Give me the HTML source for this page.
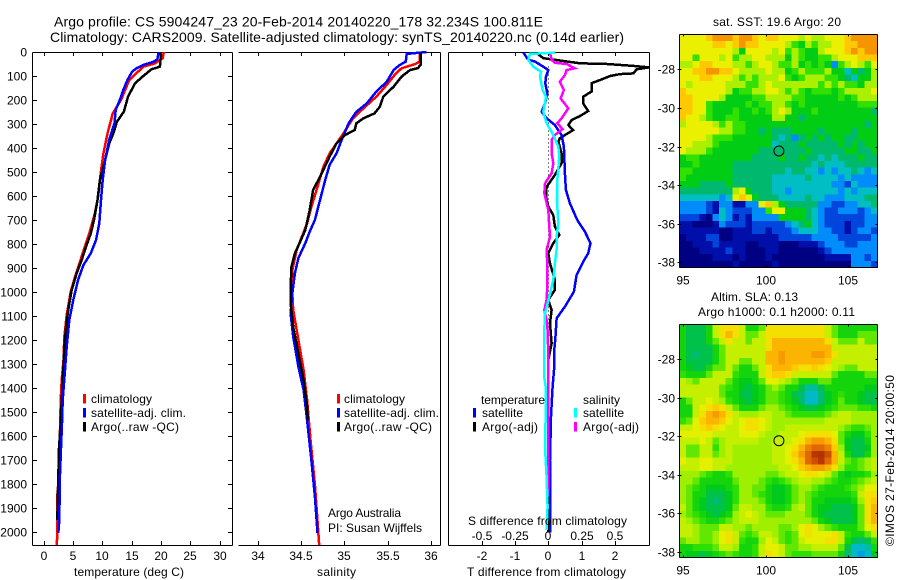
<!DOCTYPE html>
<html lang="en">
<head>
<meta charset="utf-8">
<title>Argo profile 5904247_23</title>
<style>
html,body{margin:0;padding:0;background:#fff}
svg{display:block}
text{font-family:"Liberation Sans",sans-serif;font-size:12px;fill:#000}
.title{font-size:14px}
</style>
</head>
<body>
<svg id="chart" xmlns="http://www.w3.org/2000/svg" width="900" height="580" viewBox="0 0 900 580">
<rect width="900" height="580" fill="#fff"/>
<text class="title" x="54" y="26.5" textLength="489" lengthAdjust="spacing">Argo profile: CS 5904247_23 20-Feb-2014 20140220_178 32.234S 100.811E</text>
<text class="title" x="50" y="42" textLength="574" lengthAdjust="spacing">Climatology: CARS2009. Satellite-adjusted climatology: synTS_20140220.nc (0.14d earlier)</text>
<g id="panels"></g>
<text x="74" y="576" textLength="110" lengthAdjust="spacing">temperature (deg C)</text>
<text x="317" y="576" textLength="39" lengthAdjust="spacing">salinity</text>
<text x="467" y="576" textLength="159" lengthAdjust="spacing">T difference from climatology</text>
<text x="468" y="525" textLength="159" lengthAdjust="spacing">S difference from climatology</text>
<text x="328" y="517" textLength="73" lengthAdjust="spacing">Argo Australia</text>
<text x="328" y="532" textLength="94" lengthAdjust="spacing">PI: Susan Wijffels</text>
<text x="713" y="26" textLength="128" lengthAdjust="spacing">sat. SST: 19.6 Argo: 20</text>
<text x="711" y="301" textLength="87" lengthAdjust="spacing">Altim. SLA: 0.13</text>
<text x="698" y="316" textLength="157" lengthAdjust="spacing">Argo h1000: 0.1 h2000: 0.11</text>
<text transform="translate(894,546) rotate(-90)" textLength="171" lengthAdjust="spacing">©IMOS 27-Feb-2014 20:00:50</text>
</svg>
<script>
// ---- shared axis labels ----
const depthTicks = [0,100,200,300,400,500,600,700,800,900,1000,1100,1200,1300,1400,1500,1600,1700,1800,1900,2000];
const tempTicks = [0,5,10,15,20,25,30];
const salTicks = [34,34.5,35,35.5,36];
const tDiffTicks = [-2,-1,0,1,2];
const sDiffTicks = [-0.5,-0.25,0,0.25,0.5];
const lonTicks = [95,100,105];
const latTicks = [-28,-30,-32,-34,-36,-38];
const argoLon = 100.811;
const argoLat = -32.234;

// ---- temperature panel ----
const tClimDepth = [0,26,47,61,117,200,255,339,422,505,603,670,755,838,936,998,1095,1186,1282,1365,1449,1750,1850,2010,2053];
const tClimVal = [20.5,20.3,19,17,14.6,13.2,11.8,10.9,10.2,9.75,9.3,8.77,7.8,6.68,5.37,4.63,3.95,3.55,3.4,3.1,2.93,2.64,2.35,2.35,2.25];
const tArgoDepth = [0,50,61,72,100,130,186,248,290,339,380,450,533,616,699,755,804,866,921,991,1074,1144,1227,1310,1365,1545,1649,1948];
const tArgoVal = [20,19.9,19.8,18.4,17,15.6,14.4,13.7,12.5,11.9,11.2,10.5,9.6,9.2,8.6,8.05,7.35,6.5,5.65,4.8,4.2,3.85,3.55,3.4,3.27,2.93,2.64,2.35];
const tSatDepth = [0,30,40,54,67,82,117,158,200,241,296,366,450,533,616,713,783,838,887,949,1032,1116,1227,1324,1449,1545,1649,1769,1948,2002];
const tSatVal = [19.6,19.4,18.8,17,15.9,15.1,14.3,13.6,13,12.3,12.1,11.2,10.5,10.08,9.8,9.5,8.95,8.05,6.8,5.9,5.08,4.4,3.95,3.66,3.27,3.15,2.98,2.8,2.7,2.52];

// ---- salinity panel ----
const sClimDepth = [0,40,50,68,96,137,186,235,276,339,422,477,561,644,713,769,824,908,1005,1074,1199,1324,1449,1615,1800,2053];
const sClimVal = [35.87,35.87,35.82,35.66,35.58,35.49,35.37,35.22,35.1,34.99,34.83,34.76,34.69,34.62,34.57,34.51,34.45,34.4,34.4,34.41,34.47,34.53,34.57,34.61,34.66,34.71];
const sArgoDepth = [3,54,67,75,103,144,186,228,255,276,297,325,345,380,436,519,574,658,741,790,838,894,977,1046,1144,1255,1365,1477,1532];
const sArgoVal = [35.88,35.88,35.85,35.76,35.66,35.57,35.45,35.41,35.35,35.22,35.14,35.12,35.01,34.91,34.83,34.72,34.64,34.6,34.55,34.49,34.43,34.39,34.38,34.38,34.41,34.47,34.53,34.57,34.58];
const sSatDepth = [0,8,40,54,75,124,165,214,249,297,366,422,470,533,644,699,748,796,858,921,1005,1088,1185,1310,1407,1532,1700,1850,2002];
const sSatVal = [35.95,35.72,35.71,35.64,35.57,35.49,35.37,35.26,35.14,35.05,34.97,34.91,34.83,34.78,34.7,34.66,34.6,34.55,34.47,34.43,34.4,34.38,34.41,34.47,34.53,34.57,34.62,34.66,34.69];

// ---- difference panel (T in deg C, S in salinity units) ----
const dZeroDepth = [60,300,600,900,1200,1500];
const dZeroVal = [0,0,0,0,0,0];
const dtArgoDepth = [10,26,47,50,58,64,72,89,92,100,117,130,165,186,214,246,267,283,304,325,346,359,373,422,463,512,561,602,644,679,727,762,796,838,880,949,991,1032,1074,1130,1213,1282,1532,2000];
const dtArgoVal = [-0.3,-0.15,0.95,1.76,2.56,3.03,2.66,2.56,2.16,1.86,1.55,1.3,1.3,1.05,1.05,1.2,0.95,0.7,0.6,0.75,0.5,0.35,0.3,0.4,0.4,0.2,-0.05,-0.07,0,0.15,0.2,0.33,0.15,0,0.05,0.2,0.2,0,0.1,0.05,0.1,0,0,0];
const dtSatDepth = [3,33,40,61,75,103,130,172,214,249,276,304,346,394,505,574,630,699,748,796,838,873,928,998,1060,1109,1178,1255,1324,1393,1518,1700,2000];
const dtSatVal = [-0.75,-0.6,-0.4,-0.15,0,-0.07,-0.09,-0.03,-0.1,-0.2,-0.05,0.2,0.4,0.47,0.5,0.53,0.65,0.87,1.1,1.27,1.2,1.05,0.85,0.77,0.5,0.25,0.22,0.17,0.17,0.13,0.08,0.05,0.05];
const dsArgoDepth = [3,33,45,50,68,75,96,124,158,193,235,276,297,321,346,366,422,463,505,547,588,658,727,769,824,880,977,1032,1074,1130,1255,1500,1850];
const dsArgoVal = [0.0125,0.025,0.05,0.1375,0.2,0.1375,0.125,0.0875,0.1175,0.0925,0.15,0.1,0.0675,0.1075,0.05,0.025,0.025,0.0375,0.025,-0.025,-0.03,0,0.0075,0.0125,-0.0125,-0.0075,-0.0075,-0.0125,-0.03,-0.0075,0,0,0];
const dsSatDepth = [3,8,33,61,82,103,158,186,249,297,346,394,436,533,644,713,769,824,880,949,1019,1088,1185,1345,1393,1528,1643,1769,1893,1990];
const dsSatVal = [0.05,-0.1375,-0.15,-0.1125,-0.055,-0.0625,-0.0425,-0.0175,-0.0375,-0.0125,0.0375,0.075,0.0825,0.0675,0.0675,0.075,0.0625,0.0625,0.05,0.0375,0.0075,-0.025,-0.0325,-0.0325,-0.02,-0.02,-0.025,-0.0125,-0.005,-0.0125];

// ---- maps: colour levels per cell, north to south ----
const sstCells = [
[9,9,9,9,10,11,11,11,10,11,11,10,9,10,10,9,9,9,8,9,8,8,9,9,9,10,11,11,11,11],
[9,9,9,9,9,10,10,9,10,11,10,10,9,9,9,9,8,7,6,8,7,8,8,9,9,10,10,11,11,11],
[9,9,9,9,9,9,9,9,8,6,9,9,9,9,8,9,7,8,7,6,6,8,9,9,9,10,11,10,11,11],
[9,9,7,9,9,9,8,9,7,8,8,9,9,8,8,8,6,8,7,6,6,7,7,8,9,9,9,10,10,10],
[8,8,9,10,10,9,9,9,8,8,7,8,9,9,8,7,7,8,6,7,6,7,6,3,7,8,9,8,7,9],
[9,9,10,10,11,11,10,10,9,8,8,8,8,9,8,8,6,7,8,7,7,7,8,6,6,4,6,5,6,8],
[9,9,9,10,10,9,9,9,8,7,8,7,8,8,8,9,7,6,7,8,8,8,7,7,6,5,4,6,6,8],
[9,8,9,9,9,9,9,8,8,8,7,7,8,9,8,8,8,8,8,8,8,7,8,7,8,7,7,6,8,8],
[10,9,9,9,9,9,9,8,6,7,7,8,8,9,9,8,7,8,7,6,7,7,7,6,7,8,8,8,8,9],
[10,10,9,9,9,9,8,6,6,6,6,7,7,8,8,8,8,7,7,6,6,6,6,6,7,6,7,8,8,8],
[10,10,9,9,7,6,6,6,6,6,7,6,7,7,8,8,7,6,7,6,6,6,6,6,6,6,6,7,7,7],
[10,10,9,9,7,6,6,6,7,6,6,7,6,7,8,9,8,6,6,6,7,6,6,6,6,6,6,6,6,5],
[10,9,9,8,7,6,6,7,7,6,6,6,6,6,8,8,6,6,5,6,6,6,6,6,6,6,6,6,6,6],
[8,9,9,9,9,8,7,8,7,7,6,6,6,6,6,6,6,6,6,6,6,6,6,6,6,6,6,6,5,6],
[9,9,9,9,9,9,8,8,7,7,6,6,5,6,5,5,5,6,6,6,6,5,6,6,6,6,5,6,6,6],
[9,9,9,9,8,7,7,7,6,6,6,6,6,6,5,4,5,3,5,6,5,6,5,6,6,5,5,6,6,6],
[9,9,8,8,8,7,6,6,6,6,6,6,6,6,4,5,5,5,6,5,5,5,5,5,6,5,6,5,6,6],
[9,8,8,8,7,6,6,6,6,6,6,6,5,5,5,5,5,5,5,6,5,5,5,5,5,6,6,5,5,6],
[6,7,7,6,6,6,6,6,6,6,6,5,5,5,5,6,5,5,6,5,5,4,5,4,5,5,5,6,5,5],
[6,6,7,6,6,6,6,6,5,5,5,5,5,5,5,5,5,5,5,5,4,5,4,4,4,5,5,5,5,5],
[7,7,6,6,6,6,6,6,5,5,5,5,5,5,5,5,4,5,5,4,4,3,4,3,4,4,5,4,3,4],
[7,6,6,6,6,6,6,6,5,5,5,5,5,5,4,4,4,4,4,5,4,4,4,4,3,4,3,3,3,3],
[6,6,6,5,5,5,5,6,5,5,5,5,5,5,4,4,4,4,4,4,4,4,4,3,3,2,4,3,3,3],
[5,5,5,5,5,5,5,5,8,9,6,5,5,5,4,4,3,4,4,4,4,4,4,4,3,4,3,4,4,4],
[4,4,4,4,4,4,3,4,9,10,9,6,5,5,5,4,4,4,4,5,4,4,3,3,3,4,4,4,5,5],
[3,3,3,3,2,1,3,3,1,1,3,3,9,10,8,6,5,5,5,5,5,3,3,2,2,3,3,4,4,5],
[3,3,3,3,2,1,4,3,2,2,2,3,3,7,9,9,6,6,6,5,4,3,2,2,3,3,3,2,3,4],
[2,2,2,1,0,3,4,3,1,2,1,3,3,3,3,6,6,6,6,5,4,3,2,2,2,2,2,2,3,3],
[1,1,0,0,0,1,3,2,2,2,1,2,2,2,2,2,3,4,5,6,4,3,2,2,2,1,2,2,3,3],
[1,1,1,1,1,1,0,0,1,1,1,2,2,1,2,2,2,3,4,4,4,3,3,2,2,1,2,3,3,2],
[0,1,1,1,2,2,0,0,1,1,1,1,1,1,1,2,2,2,2,2,3,3,3,3,2,2,2,2,2,3],
[0,0,1,1,1,2,1,1,1,1,0,0,1,1,1,0,0,0,1,1,1,2,3,3,3,2,2,3,3,3],
[0,0,0,1,1,1,1,2,1,1,0,0,0,1,1,0,0,0,0,0,0,1,2,3,3,3,3,3,3,3],
[0,0,0,0,0,1,1,1,0,1,0,0,0,1,0,0,0,0,0,0,0,0,1,1,1,1,3,3,2,3],
[0,0,0,0,0,0,0,0,1,0,0,0,0,0,1,0,0,0,0,0,0,0,0,0,0,0,3,3,3,2]
];
const slaCells = [
[6,5,5,5,6,8,9,9,9,8,6,6,7,9,9,9,9,9,9,9,9,9,8,7,6,6,6,6,6,6],
[6,5,5,5,6,8,9,10,9,8,7,7,8,9,9,9,9,9,9,9,9,9,8,7,6,6,6,7,7,7],
[6,5,5,5,6,7,8,9,8,8,7,8,8,9,10,10,10,10,10,10,10,10,9,8,7,7,7,8,7,7],
[6,5,5,5,5,6,7,8,8,8,8,8,8,9,10,10,10,10,10,10,10,10,10,8,8,8,8,8,8,8],
[6,5,4.5,5,5,6,7,8,8,8,8,8,8,10,10,10.5,10,10,10,10,10.5,10.5,10,9,8,8,8,8,8,8],
[6,5,5,5,5,6,7,8,8,7,7,8,8,10,10,10.5,10,10,10,10,10,10,9.5,8,8,8,8,8,8,8],
[6,5.5,5,5,6,7,7,8,7,6,6,7,8,9,10,10,10,9.5,9,9,9.5,9,8.5,8,7.5,7,7,8,8,8],
[6.5,6,6,6,7,8,8,8,6.5,6,6,6,8,9,9.5,9.5,9,8,8,8,8,8,8,7,6,6,6,6,7,7],
[8,7.5,7,8,8,8,8,7,6,5.5,5.5,6,7,8.5,8.5,8,7.5,7,6,6,6,7,7,6,6,6,6,6,6,6],
[8,8,8,8,8,8,7,6.5,6,5.5,5,5.5,6,7,7.5,7,6,6,5,4,4,5,6,6,6,6,6,6,5.5,5.5],
[8,8,8,8,8,8,7,6,6,5,5,5.5,6,7,7,6.5,6,5,4.5,3.5,3.5,4.5,5.5,6,6.5,6,6,5.5,5,5],
[6,7,8,8,8.5,8,7.5,6.5,6,5.5,5,5.5,6,7,7,6.5,6,5.5,4.5,3.5,3.5,4.5,5.5,6,7,6,6,5.5,5,5],
[6,6,8,8.5,9,9.5,9,8,7,6,6,6,7,7.5,7.5,7,6.5,6,5.5,5,5,5.5,6,6.5,7,7,7,6.5,6.5,6],
[6,6,8,9,10,10.5,10,9,8,7.5,7.5,7.5,8,8,7.5,7.5,7,6.5,6.5,6.5,6.5,6.5,7,7.5,8,8,7.5,7.5,7.5,7.5],
[6.5,7,8.5,9.5,10,10,9.5,8.5,8,8.5,9,9,8.5,8,7.5,7.5,7.5,7.5,7.5,7.5,7.5,7.5,8,8,8,8,7.5,7.5,7.5,7.5],
[8,8,8.5,9,9.5,9,8.5,8,8,8.5,9,9,8.5,8,7.5,7.5,8,8,8,8,8,8,8,8,7.5,7,6.5,6.5,7,7.5],
[8.5,8.5,8.5,8.5,8.5,8,8,8,8,8.5,8.5,8.5,8,7.5,7.5,8,8,8,8.5,9,9,9,9,8.5,7,6,5.5,5.5,6.5,7.5],
[8,8,8,8.5,8,7,7.5,8,8,8,8,8,7.5,7.5,8,8,8,8.5,9,10,10.5,10.5,10,9,7,5.5,5,5,6,7.5],
[8,7,7,8,8,6.5,7.5,8,7.5,7.5,7.5,7.5,7.5,7.5,8,8,8.5,9,10,11,11.5,11.5,11,9.5,7.5,5.5,5,5,5.5,7.5],
[8,7,7,8,8,7,7.5,8,7.5,7.5,7.5,7.5,7.5,7.5,8,8,8.5,9.5,10.5,11.5,12.5,13,12,10,8,6,5,5,6,7.5],
[8.5,8,8,8.5,8.5,8,8,8,7.5,7.5,7.5,7.5,7.5,7.5,8,8,8.5,9,10,11.5,12,12.5,11.5,10,8,7,6.5,7,7.5,8],
[8,8,8,8.5,8.5,8,8,7.5,7.5,7.5,7.5,7.5,7.5,7.5,7.5,8,8,8.5,9.5,10,10.5,10.5,10,9,7.5,6.5,6.5,7,7.5,8],
[7.5,7.5,7.5,7,6.5,6,6,6.5,7.5,7.5,7.5,7.5,7.5,7,7,7.5,8,8,8.5,9,9,8.5,8,7,6,5.5,6,6,6.5,7.5],
[7.5,7.5,7,6,6,6,6,6,7,7.5,7.5,7.5,7,6.5,6,6.5,7,7.5,8,8,7.5,7.5,7,6.5,6,6,6.5,7,7.5,8],
[7.5,7,6.5,6,5.5,5.5,5.5,6,6.5,7.5,7.5,7,7,6,5.5,5.5,6,7,7.5,7.5,7,6.5,6,6,6,6.5,7,7.5,8.5,8.5],
[7.5,7,6,6,5,5,5,5.5,6.5,7.5,7.5,7,6.5,6,5.5,5.5,6,7,7.5,7,6.5,6,6,6,6,6,6.5,8,9,9],
[7.5,7,6,5.5,5,4.5,5,5.5,6.5,7.5,7.5,7.5,7,6,5.5,5.5,6,7,7.5,7,6,6,5.5,5.5,5.5,5.5,6,7.5,9,9.5],
[8,7,6,5.5,5,5,5,5.5,7,8,8,7.5,7.5,6.5,6,6,6.5,7.5,8,7,6,5.5,5.5,5,5,5,5.5,7,9,10],
[7.5,7,6.5,6,5.5,5,5.5,6,7.5,8,8.5,8,7.5,7,7,7,7.5,7.5,7.5,7,6,5.5,5,5,5,5,5.5,7,9,10],
[8,7.5,7,6.5,6,6,6.5,7,7.5,8,8,8,7.5,7.5,7.5,7.5,7.5,7.5,7.5,7.5,7,6,5.5,5,5,5,5.5,7,9,10],
[8,8,7.5,7,7,7,8,8,7.5,7.5,7,7.5,7.5,7.5,7.5,7,7,7.5,8.5,9,8.5,7.5,7,6.5,6,6,6,7,8.5,9],
[8,8,7.5,7,7,7.5,8.5,9,8,7,6.5,7,8,8,7.5,7,6.5,7,8.5,9,8.5,8.5,8.5,9,8,6.5,6,6,7,8],
[7,7.5,7.5,7,7,7.5,8.5,9,8,6.5,6,6,7.5,8.5,8,7,6.5,7,8,8.5,8.5,8.5,9,9,8,6,5,4.5,5,6.5],
[6,6,6.5,6.5,6.5,7,8,8,7.5,6,6,6.5,8,8.5,8.5,8,7,7,7.5,7.5,8,8,8,8,7,5,3.5,3.5,4,6],
[6,5.5,5.5,5,5.5,6,6.5,7,6.5,6,6,6.5,8,9,8.5,8,7,6.5,6.5,6.5,7,7,7,7,6,4.5,3.5,3,3.5,5.5]
];
const levelColours = [[0,0,130],[0,15,170],[0,70,220],[0,140,250],[0,190,195],[0,185,110],[0,205,20],[50,225,0],[170,240,0],[235,240,0],[255,200,0],[245,150,0],[220,100,0],[180,50,0]];

// ---- drawing ----
const SVGNS = 'http://www.w3.org/2000/svg';
const root = document.getElementById('panels');

function depthY(d){ return 52 + 0.2402 * d; }
function tempX(t){ return 43.5 + 5.87 * t; }
function salX(s){ return 257.7 + 86.6 * (s - 34); }
function tDiffX(t){ return 548.3 + 33.25 * t; }
function sDiffX(s){ return 548.3 + 133 * s; }
function lonX(lon){ return 683.3 + 16.45 * (lon - 95); }
function latOffset(lat){ return 19.3 * (-28 - lat); }

function node(tag, name, attrs){
  const el = document.createElementNS(SVGNS, tag);
  
  
  for (const k in attrs) el.setAttribute(k, attrs[k]);
  root.appendChild(el);
  return el;
}
function label(name, str, x, y, anchor){
  const el = node('text', name, {x:x, y:y, 'text-anchor':anchor||'middle'});
  el.textContent = str;
  return el;
}
function seg(name, x1, y1, x2, y2){
  return node('line', name, {x1:x1, y1:y1, x2:x2, y2:y2, stroke:'#000', 'stroke-width':1, 'shape-rendering':'crispEdges'});
}
function profile(name, depths, vals, xf, colour, width, dash){
  const pts = depths.map((d,i) => xf(vals[i]).toFixed(1) + ',' + depthY(d).toFixed(1)).join(' ');
  const attrs = {points:pts, fill:'none', stroke:colour, 'stroke-width':width, 'stroke-linejoin':'miter', 'shape-rendering':'crispEdges'};
  if (dash) attrs['stroke-dasharray'] = dash;
  return node('polyline', name, attrs);
}
function fmt(v){ return String(v); }

// frames
function frame(prefix, l, r, left){
  seg(prefix + '-top-axis', l, 52.5, r, 52.5);
  seg(prefix + '-bottom-axis', l, 545.5, r, 545.5);
  seg(prefix + '-right-axis', r, 52.5, r, 545.5);
  if (left) seg(prefix + '-left-axis', l, 52.5, l, 545.5);
}
frame('temperature-panel', 32.5, 232.5, true);
frame('salinity-panel', 238.5, 440.5, false);
frame('difference-panel', 448.5, 649.5, true);

// depth ticks
depthTicks.forEach(d => {
  const y = Math.round(depthY(d)) + 0.5;
  seg('depth-tick-left', 32.5, y, 37, y);
  seg('depth-tick-right', 228, y, 232.5, y);
  label('depth-tick-label', fmt(d), 27, Math.round(depthY(d)) + 4.5, 'end');
});
// x ticks
function xTicks(prefix, ticks, xf){
  ticks.forEach(v => {
    const x = Math.round(xf(v)) + 0.5;
    seg(prefix + '-tick-top', x, 52.5, x, 56);
    seg(prefix + '-tick-bottom', x, 541, x, 545.5);
    label(prefix + '-tick-label', fmt(v), Math.round(xf(v)), 560);
  });
}
xTicks('temperature', tempTicks, tempX);
xTicks('salinity', salTicks, salX);
xTicks('t-difference', tDiffTicks, tDiffX);
sDiffTicks.forEach(v => {
  label('s-difference-tick-label', fmt(v), Math.round(sDiffX(v)), 540);
});

// temperature series
profile('temperature-climatology-line', tClimDepth, tClimVal, tempX, '#ff0000', 2.5);
profile('temperature-argo-line', tArgoDepth, tArgoVal, tempX, '#000000', 2.5);
profile('temperature-satellite-line', tSatDepth, tSatVal, tempX, '#0000ff', 2.5);
// salinity series
profile('salinity-climatology-line', sClimDepth, sClimVal, salX, '#ff0000', 2.5);
profile('salinity-satellite-line', sSatDepth, sSatVal, salX, '#0000ff', 2.5);
profile('salinity-argo-line', sArgoDepth, sArgoVal, salX, '#000000', 2.5);
// difference series
profile('zero-difference-dotted-line', dZeroDepth, dZeroVal, tDiffX, '#000000', 1, '1 3');
profile('t-difference-argo-line', dtArgoDepth, dtArgoVal, tDiffX, '#000000', 2.5);
profile('t-difference-satellite-line', dtSatDepth, dtSatVal, tDiffX, '#0000ff', 2.5);
profile('s-difference-argo-line', dsArgoDepth, dsArgoVal, sDiffX, '#ff00ff', 2.5);
profile('s-difference-satellite-line', dsSatDepth, dsSatVal, sDiffX, '#00ffff', 2.5);

// legends
function legendRow(name, colour, mx, tx, baseline, str, width){
  const sw = node('rect', name + '-swatch', {x:mx, y:baseline-9, width:3, height:9.5, fill:colour, 'shape-rendering':'crispEdges'});
  const t = label(name + '-label', str, tx, baseline, 'start');
  t.setAttribute('textLength', width);
  t.setAttribute('lengthAdjust', 'spacing');
  return sw;
}
legendRow('temperature-legend-climatology', '#ff0000', 83, 91, 403, 'climatology', 61);
legendRow('temperature-legend-satellite', '#0000ff', 83, 91, 417, 'satellite-adj. clim.', 95);
legendRow('temperature-legend-argo', '#000000', 83, 91, 431, 'Argo(..raw -QC)', 88);
legendRow('salinity-legend-climatology', '#ff0000', 337, 344, 403, 'climatology', 61);
legendRow('salinity-legend-satellite', '#0000ff', 337, 344, 417, 'satellite-adj. clim.', 95);
legendRow('salinity-legend-argo', '#000000', 337, 344, 431, 'Argo(..raw -QC)', 88);
const legT = label('difference-legend-temperature-heading', 'temperature', 481, 404, 'start');
legT.setAttribute('textLength', 64);
legT.setAttribute('lengthAdjust', 'spacing');
const legS = label('difference-legend-salinity-heading', 'salinity', 583, 404, 'start');
legS.setAttribute('textLength', 37);
legS.setAttribute('lengthAdjust', 'spacing');
legendRow('difference-legend-t-satellite', '#0000ff', 473, 482, 417, 'satellite', 41);
legendRow('difference-legend-t-argo', '#000000', 473, 482, 431, 'Argo(-adj)', 56);
legendRow('difference-legend-s-satellite', '#00ffff', 574, 583, 417, 'satellite', 41);
legendRow('difference-legend-s-argo', '#ff00ff', 574, 583, 431, 'Argo(-adj)', 56);

// maps
function levelColour(v){
  const lo = Math.max(0, Math.min(levelColours.length - 1, Math.floor(v)));
  const hi = Math.min(levelColours.length - 1, lo + 1);
  const f = v - Math.floor(v);
  const c = levelColours[lo].map((a,i) => Math.round(a + (levelColours[hi][i] - a) * f));
  return 'rgb(' + c.join(',') + ')';
}
function drawMap(prefix, cells, top, tick28, levelShift){
  const left = 679.5, right = 877.5, bottom = top + 233;
  const rows = cells.length;
  cells.forEach((row, r) => {
    row.forEach((v, c) => {
      const x0 = left + (right - left) * c / row.length;
      const x1 = left + (right - left) * (c + 1) / row.length;
      const y0 = top + (bottom - top) * r / rows;
      const y1 = top + (bottom - top) * (r + 1) / rows;
      node('rect', prefix + '-cell', {x:x0.toFixed(2), y:y0.toFixed(2), width:(x1-x0+0.3).toFixed(2), height:(y1-y0+0.3).toFixed(2), fill:levelColour(v + levelShift), 'shape-rendering':'crispEdges'});
    });
  });
  seg(prefix + '-top-axis', left, top, right, top);
  seg(prefix + '-bottom-axis', left, bottom, right, bottom);
  seg(prefix + '-left-axis', left, top, left, bottom);
  seg(prefix + '-right-axis', right, top, right, bottom);
  lonTicks.forEach(lon => {
    const x = Math.round(lonX(lon)) + 0.5;
    seg(prefix + '-lon-tick-top', x, top, x, top + 2);
    seg(prefix + '-lon-tick-bottom', x, bottom - 2, x, bottom);
    label(prefix + '-lon-tick-label', fmt(lon), Math.round(lonX(lon)), bottom + 17);
  });
  latTicks.forEach(lat => {
    const yRaw = tick28 + latOffset(lat);
    const y = Math.round(yRaw) + 0.5;
    seg(prefix + '-lat-tick-left', left - 2, y, left + 2, y);
    seg(prefix + '-lat-tick-right', right - 2, y, right, y);
    label(prefix + '-lat-tick-label', fmt(lat), 675, Math.round(yRaw) + 4.5, 'end');
  });
  node('circle', prefix + '-argo-position-marker', {cx:lonX(argoLon).toFixed(1), cy:(tick28 + latOffset(argoLat)).toFixed(1), r:5, fill:'none', stroke:'#000', 'stroke-width':1});
}
drawMap('sst-map', sstCells, 34.5, 69.3, 0);
drawMap('sla-map', slaCells, 324.5, 359, 0.4);
</script>
</body>
</html>
